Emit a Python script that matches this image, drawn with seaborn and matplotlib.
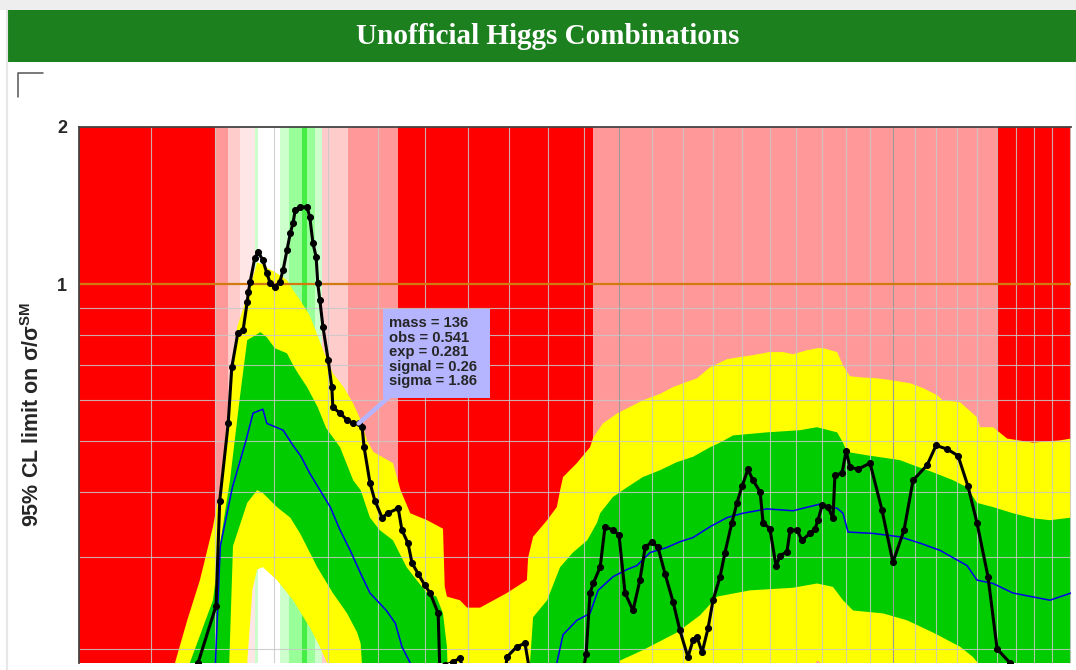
import numpy as np
import matplotlib
matplotlib.use("Agg")
import matplotlib.pyplot as plt
from matplotlib.patches import Rectangle
from matplotlib.lines import Line2D
from matplotlib.ticker import NullLocator, NullFormatter
import seaborn as sns

# ---- data (Higgs mass in GeV, limit in units of sigma/sigma_SM) ----
band_edges = [89.9, 110.0, 112.0, 114.0, 116.6, 117.2, 121.0, 122.7, 125.0, 126.0,
              127.5, 128.8, 133.8, 144.2, 192.4, 350.2, 390.7]
band_colors = ['#ff0000', '#ff9999', '#ffcccc', '#ffe6e6', '#ccffcc', '#ffffff', '#ccffcc',
               '#99ff99', '#44ee44', '#99ff99', '#ccffcc', '#ffcccc', '#ff9999', '#ff0000',
               '#ff9999', '#ff0000']

obs_mass = [106.3, 107.2, 110.1, 110.7, 112.1, 112.7, 113.7, 114.6, 115.3, 115.5, 115.8, 116.6,
            117.2, 118.0, 118.7, 119.3, 120.1, 121.0, 121.6, 122.3, 122.9, 123.4, 123.8, 124.7,
            126.0, 126.5, 127.1, 127.7, 128.0, 128.4, 129.0, 130.0, 130.7, 130.9, 132.3, 133.7,
            134.9, 136.0, 136.7, 137.1, 138.3, 139.3, 140.8, 142.0, 144.2, 145.0, 146.3, 147.2,
            148.5, 150.0, 151.2, 153.0, 153.4, 154.5, 156.5, 158.0, 159.0, 169.0, 169.4, 171.9,
            174.0, 175.3, 189.6, 190.5, 191.6, 192.5, 194.5, 195.9, 198.2, 200.0, 201.8, 204.2,
            206.3, 207.9, 210.0, 211.9, 214.1, 216.7, 218.9, 221.5, 223.2, 224.5, 226.2, 228.2,
            229.9, 232.3, 234.0, 236.4, 238.2, 240.0, 242.1, 243.9, 246.5, 247.6, 250.1, 252.4,
            253.9, 256.5, 257.7, 260.3, 262.3, 265.4, 267.4, 268.6, 270.2, 272.6, 274.6, 275.4,
            278.3, 280.0, 281.6, 285.0, 290.1, 295.3, 300.1, 305.1, 309.2, 315.7, 319.9, 325.2,
            330.5, 335.4, 339.9, 345.5, 350.2, 357.0, 362.0]
obs_val = [0.175, 0.188, 0.242, 0.385, 0.541, 0.693, 0.805, 0.816, 0.924, 0.965, 1.009, 1.122,
           1.152, 1.112, 1.050, 1.004, 0.987, 1.009, 1.064, 1.162, 1.252, 1.309, 1.386, 1.405,
           1.405, 1.344, 1.198, 1.127, 1.004, 0.932, 0.827, 0.715, 0.635, 0.581, 0.566, 0.549,
           0.541, 0.541, 0.532, 0.487, 0.416, 0.385, 0.357, 0.364, 0.372, 0.338, 0.319, 0.292,
           0.279, 0.265, 0.256, 0.234, 0.180, 0.186, 0.189, 0.192, 0.180, 0.180, 0.193, 0.202,
           0.205, 0.180, 0.180, 0.196, 0.256, 0.267, 0.287, 0.343, 0.338, 0.331, 0.256, 0.237,
           0.271, 0.313, 0.321, 0.313, 0.279, 0.246, 0.217, 0.193, 0.208, 0.211, 0.197, 0.219,
           0.248, 0.275, 0.306, 0.349, 0.381, 0.410, 0.442, 0.421, 0.400, 0.349, 0.340, 0.288,
           0.302, 0.307, 0.338, 0.338, 0.323, 0.333, 0.340, 0.353, 0.377, 0.374, 0.356, 0.431,
           0.434, 0.479, 0.446, 0.442, 0.454, 0.369, 0.293, 0.338, 0.421, 0.450, 0.491, 0.483,
           0.469, 0.410, 0.349, 0.275, 0.200, 0.188, 0.170]

exp_mass = [109.9, 110.0, 110.8, 112.8, 115.1, 116.3, 118.0, 118.7, 121.6, 123.4, 124.9, 126.5,
            130.4, 132.3, 134.3, 136.4, 138.3, 141.7, 143.6, 145.0, 146.8, 148.0, 182.0, 182.4,
            184.1, 187.9, 191.6, 193.9, 198.2, 202.4, 205.4, 209.4, 214.7, 218.9, 223.2, 228.9,
            234.7, 240.3, 249.0, 258.8, 269.4, 276.3, 278.7, 280.8, 291.4, 303.3, 312.4, 321.8,
            334.9, 339.9, 348.1, 358.5, 378.7, 390.7]
exp_val = [0.17, 0.188, 0.315, 0.408, 0.502, 0.566, 0.576, 0.541, 0.525, 0.491, 0.467, 0.434,
           0.374, 0.338, 0.309, 0.279, 0.256, 0.237, 0.224, 0.202, 0.188, 0.17, 0.17, 0.188,
           0.213, 0.227, 0.234, 0.259, 0.275, 0.284, 0.289, 0.306, 0.313, 0.321, 0.327, 0.343,
           0.357, 0.364, 0.371, 0.368, 0.379, 0.372, 0.364, 0.335, 0.333, 0.328, 0.319, 0.309,
           0.289, 0.271, 0.267, 0.256, 0.248, 0.256]

# +2 sigma / -2 sigma band edges
up2_mass = [89.9, 103.0, 103.6, 105.5, 107.5, 109.6, 110.7, 113.6, 115.3, 116.6, 117.0, 118.0,
            119.0, 120.1, 122.3, 123.4, 124.7, 126.5, 127.7, 129.2, 130.9, 133.0, 134.9, 136.4,
            137.7, 139.0, 143.1, 144.7, 146.8, 150.5, 154.1, 154.5, 155.0, 158.0, 159.7, 162.8,
            169.4, 174.5, 174.8, 176.1, 179.8, 182.4, 183.3, 184.1, 187.9, 191.6, 192.5, 195.3,
            199.6, 202.4, 207.2, 212.5, 216.7, 220.0, 224.5, 228.9, 234.7, 239.3, 243.9, 250.0,
            255.0, 258.8, 264.2, 268.6, 270.6, 276.3, 278.7, 281.6, 285.8, 293.1, 298.8, 307.8,
            313.8, 320.4, 323.2, 331.5, 339.9, 341.4, 348.1, 355.4, 369.3, 384.4, 390.7]
up2_val = [0.12, 0.17, 0.188, 0.227, 0.271, 0.343, 0.403, 0.827, 0.95, 1.06, 1.10, 1.09,
           1.07, 1.055, 1.018, 0.974, 0.932, 0.87, 0.81, 0.74, 0.675, 0.635, 0.591, 0.549,
           0.502, 0.477, 0.454, 0.403, 0.364, 0.353, 0.340, 0.263, 0.252, 0.248, 0.240, 0.240,
           0.256, 0.271, 0.299, 0.328, 0.353, 0.374, 0.403, 0.427, 0.454, 0.487, 0.508, 0.541,
           0.566, 0.578, 0.599, 0.616, 0.635, 0.646, 0.660, 0.693, 0.718, 0.725, 0.731, 0.741,
           0.741, 0.734, 0.747, 0.754, 0.754, 0.741, 0.699, 0.666, 0.663, 0.660, 0.655, 0.646,
           0.632, 0.613, 0.599, 0.594, 0.556, 0.532, 0.532, 0.506, 0.497, 0.502, 0.506]
lo2_mass = [89.9, 115.0, 115.3, 116.2, 117.0, 118.0, 120.5, 123.4, 126.5, 128.4, 129.8, 131.0,
            262.0, 266.5, 268.5, 270.5, 275.0, 390.7]
lo2_val = [0.12, 0.15, 0.188, 0.26, 0.284, 0.287, 0.271, 0.248, 0.220, 0.202, 0.188, 0.15,
           0.15, 0.186, 0.19, 0.186, 0.15, 0.12]

# +1 sigma / -1 sigma band edges
up1_mass = [89.9, 104.5, 105.9, 109.6, 110.7, 112.4, 114.0, 115.3, 117.6, 118.7, 120.1, 122.3,
            123.4, 124.3, 126.0, 128.0, 129.6, 132.3, 134.9, 136.4, 138.3, 140.3, 143.1, 146.0,
            148.2, 150.5, 152.6, 154.1, 155.0, 155.5, 174.5, 175.3, 176.1, 179.8, 183.3, 186.8,
            190.8, 193.6, 194.5, 198.2, 202.4, 207.2, 212.5, 217.9, 223.2, 228.9, 232.3, 236.8,
            249.0, 261.5, 268.2, 276.3, 278.7, 280.4, 288.8, 297.5, 303.3, 309.2, 318.5, 328.1,
            334.9, 339.9, 348.1, 358.5, 369.3, 378.7, 390.7]
up1_val = [0.12, 0.15, 0.188, 0.248, 0.315, 0.421, 0.60, 0.781, 0.809, 0.791, 0.754, 0.737,
           0.70, 0.675, 0.635, 0.581, 0.53, 0.487, 0.421, 0.403, 0.357, 0.338, 0.323, 0.287,
           0.271, 0.256, 0.252, 0.234, 0.202, 0.15, 0.15, 0.188, 0.230, 0.248, 0.287, 0.306,
           0.323, 0.349, 0.364, 0.391, 0.408, 0.427, 0.440, 0.456, 0.467, 0.487, 0.497, 0.513,
           0.520, 0.525, 0.532, 0.520, 0.497, 0.477, 0.470, 0.464, 0.460, 0.450, 0.436, 0.421,
           0.408, 0.381, 0.374, 0.364, 0.356, 0.353, 0.357]
lo1_mass = [89.9, 112.0, 112.9, 115.3, 117.0, 118.0, 120.5, 122.9, 124.7, 127.9, 130.9, 133.7,
            135.7, 136.4, 137.3, 198.0, 200.3, 207.2, 217.9, 225.5, 231.3, 242.8, 258.8, 268.2,
            274.6, 278.7, 282.9, 295.7, 306.4, 318.5, 331.5, 337.9, 340.4, 342.0, 390.7]
lo1_val = [0.12, 0.15, 0.315, 0.381, 0.403, 0.398, 0.374, 0.357, 0.333, 0.287, 0.256, 0.234,
           0.215, 0.205, 0.15, 0.15, 0.190, 0.199, 0.215, 0.232, 0.252, 0.259, 0.262, 0.267,
           0.263, 0.248, 0.237, 0.234, 0.227, 0.215, 0.202, 0.193, 0.188, 0.15, 0.12]

grid_masses = list(range(100, 391, 10))
grid_limits = [0.2, 0.3, 0.4, 0.5, 0.6, 0.7, 0.8, 0.9]
tooltip_lines = ["mass = 136", "obs = 0.541", "exp = 0.281", "signal = 0.26", "sigma = 1.86"]
tip_mass, tip_obs = 136.0, 0.541

# ---- style ----
sns.set_style("white")
plt.rcParams['font.family'] = ['Liberation Sans', 'DejaVu Sans']
plt.rcParams['mathtext.fontset'] = 'custom'
plt.rcParams['mathtext.bf'] = 'Liberation Sans:bold'
plt.rcParams['mathtext.rm'] = 'Liberation Sans'

W, H = 1076, 670
fig = plt.figure(figsize=(W / 100, H / 100), dpi=100)
fig.patch.set_facecolor('white')

# page chrome: grey strip, green header, corner mark
fig.add_artist(Rectangle((0, 1 - 10 / H), 1, 10 / H, transform=fig.transFigure,
                         fc='#eeeeee', ec='none'))
fig.add_artist(Rectangle((8 / W, 1 - 62 / H), 1 - 8 / W, 52 / H, transform=fig.transFigure,
                         fc='#1d801f', ec='none'))
fig.add_artist(Line2D([7 / W, 7 / W], [0, 1 - 10 / H], transform=fig.transFigure,
                      color='#e6e6e6', lw=1.5))
fig.add_artist(Line2D([43 / W, 18 / W, 18 / W], [1 - 73 / H, 1 - 73 / H, 1 - 97 / H],
                      transform=fig.transFigure, color='#555555', lw=1.1))
fig.text(548 / W, 1 - 37 / H, "Unofficial Higgs Combinations", ha='center', va='center',
         color='white', fontsize=21, fontweight='bold', family='Liberation Serif')

ax = fig.add_axes([79 / W, 1 - 663 / H, (1071 - 79) / W, (663 - 127) / H])
ax.set_xscale('log')
ax.set_yscale('log')

# exclusion colour strips
for i, c in enumerate(band_colors):
    ax.axvspan(band_edges[i], band_edges[i + 1], color=c, lw=0, zorder=0)

# expected bands
ax.fill(np.r_[up2_mass, lo2_mass[::-1]], np.r_[up2_val, lo2_val[::-1]],
        color='#ffff00', lw=0, zorder=1)
ax.fill(np.r_[up1_mass, lo1_mass[::-1]], np.r_[up1_val, lo1_val[::-1]],
        color='#00cc00', lw=0, zorder=2)

for m in grid_masses:
    dark = m in (200, 300)
    ax.axvline(m, color='#999999' if dark else '#c8c8c8', lw=0.8,
               alpha=1.0 if dark else 0.85, zorder=3)
for v in grid_limits:
    ax.axhline(v, color='#c8c8c8', lw=0.8, alpha=0.85, zorder=3)
ax.axhline(1.0, color='#d07a10', lw=1.6, zorder=4)

sns.lineplot(x=exp_mass, y=exp_val, color='#0000ee', lw=1.1, ax=ax,
             estimator=None, sort=False, zorder=5)
sns.lineplot(x=obs_mass, y=obs_val, color='black', lw=2.2, marker='o', markersize=4.3,
             markeredgecolor='black', ax=ax, estimator=None, sort=False, zorder=6)

ax.set_xlim(89.87, 390.7)
ax.set_ylim(0.188, 2.0)
ax.set_xticks([])
ax.xaxis.set_minor_locator(NullLocator())
ax.yaxis.set_minor_locator(NullLocator())
ax.yaxis.set_minor_formatter(NullFormatter())
ax.set_yticks([1, 2])
ax.set_yticklabels(['1', '2'], fontweight='bold', fontsize=13)
ax.tick_params(axis='y', length=0, pad=8.5)
ax.set_xlabel('')
ax.set_ylabel('')
for s in ('right', 'bottom'):
    ax.spines[s].set_visible(False)
for s in ('top', 'left'):
    ax.spines[s].set_color('#444444')
    ax.spines[s].set_linewidth(1.3)
    ax.spines[s].set_zorder(7)

fig.text(33 / W, 1 - 414 / H, r'95% CL limit on σ/σ$^{\mathbf{SM}}$', rotation=90,
         ha='center', va='center', fontsize=15.5, fontweight='bold')

# hover tooltip
fig.add_artist(Rectangle((383 / W, 1 - 398 / H), 107 / W, 89 / H, transform=fig.transFigure,
                         fc='#b4b4ff', ec='none', zorder=10))
ax.annotate('', xy=(tip_mass, tip_obs), xycoords='data',
            xytext=(389 / W, 1 - 397 / H), textcoords='figure fraction',
            arrowprops=dict(arrowstyle='-', color='#b4b4ff', lw=3.2, shrinkA=0, shrinkB=0),
            annotation_clip=False, zorder=9)
fig.text(389 / W, 1 - 316 / H, "\n".join(tooltip_lines), ha='left', va='top',
         fontsize=10.6, fontweight='bold', linespacing=1.05, zorder=11)

fig.savefig("out.png", dpi=100)
